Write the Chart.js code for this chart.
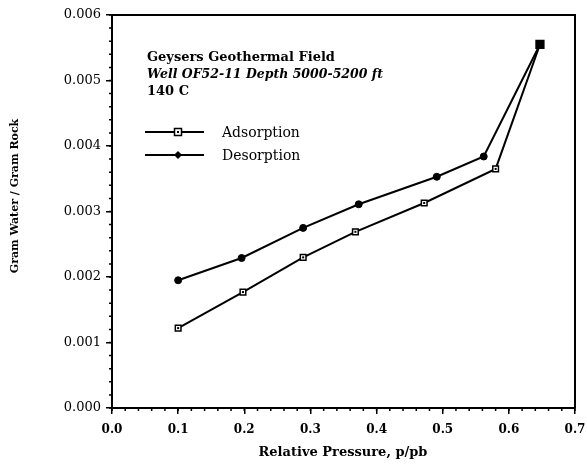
<!DOCTYPE html>
<html>
<head>
<meta charset="utf-8">
<script src="https://cdn.jsdelivr.net/npm/chart.js@4.4.1/dist/chart.umd.min.js"></script>
<style>
html,body{margin:0;padding:0;background:#fff;}
#wrap{width:587px;height:466px;position:relative;}
</style>
</head>
<body>
<div id="wrap"><canvas id="c" width="587" height="466"></canvas></div>
<script>
const adsorptionX = [0.100, 0.198, 0.289, 0.368, 0.472, 0.580, 0.647];
const adsorptionY = [0.00122, 0.00177, 0.00230, 0.00269, 0.00313, 0.00365, 0.00555];
const desorptionX = [0.100, 0.196, 0.289, 0.373, 0.491, 0.562, 0.647];
const desorptionY = [0.00195, 0.00229, 0.00275, 0.00311, 0.00353, 0.00384, 0.00555];
const xTicks = [0.0, 0.1, 0.2, 0.3, 0.4, 0.5, 0.6, 0.7];
const yTicks = [0.000, 0.001, 0.002, 0.003, 0.004, 0.005, 0.006];
const titleLines = ["Geysers Geothermal Field", "Well OF52-11 Depth 5000-5200 ft", "140 C"];
const seriesNames = ["Adsorption", "Desorption"];
const xTitle = "Relative Pressure, p/pb";
const yTitle = "Gram Water / Gram Rock";

const SERIF = '"DejaVu Serif", "Liberation Serif", serif';

function pts(xs, ys){ return xs.map((x,i)=>({x:x, y:ys[i]})); }

const nA = adsorptionX.length;
const nD = desorptionX.length;

const frameAndExtras = {
  id: 'frameAndExtras',
  afterDraw(chart){
    const ctx = chart.ctx;
    const a = chart.chartArea;
    const xs = chart.scales.x, ys = chart.scales.y;
    ctx.save();
    // top and right frame
    ctx.strokeStyle = '#000';
    ctx.lineWidth = 2;
    ctx.beginPath();
    ctx.moveTo(a.left, a.top); ctx.lineTo(a.right, a.top); ctx.lineTo(a.right, a.bottom);
    ctx.stroke();
    // minor ticks
    ctx.lineWidth = 1.5;
    ctx.beginPath();
    for (let v = 0; v <= 0.7001; v += 0.02) {
      const p = xs.getPixelForValue(v);
      ctx.moveTo(p, a.bottom); ctx.lineTo(p, a.bottom + 3);
    }
    for (let v = 0; v <= 0.00601; v += 0.0002) {
      const p = ys.getPixelForValue(v);
      ctx.moveTo(a.left, p); ctx.lineTo(a.left - 3, p);
    }
    ctx.stroke();
    // center dots of adsorption squares
    const metaA = chart.getDatasetMeta(0);
    ctx.fillStyle = '#000';
    metaA.data.forEach((el, i) => {
      if (i < nA - 1) ctx.fillRect(el.x - 1, el.y - 1, 2, 2);
    });
    // axis titles
    ctx.fillStyle = '#000';
    ctx.textAlign = 'center';
    ctx.textBaseline = 'middle';
    ctx.font = 'bold 13px ' + SERIF;
    ctx.fillText(xTitle, 343, 453);
    ctx.save();
    ctx.translate(15, 196);
    ctx.rotate(-Math.PI / 2);
    ctx.font = 'bold 11px ' + SERIF;
    ctx.fillText(yTitle, 0, 0);
    ctx.restore();
    // title text
    ctx.textBaseline = 'alphabetic';
    ctx.textAlign = 'left';
    ctx.font = 'bold 13px ' + SERIF;
    ctx.fillText(titleLines[0], 147, 61);
    ctx.font = 'italic bold 12.5px ' + SERIF;
    ctx.fillText(titleLines[1], 147, 78);
    ctx.font = 'bold 13px ' + SERIF;
    ctx.fillText(titleLines[2], 147, 95);
    // legend
    ctx.font = '14px ' + SERIF;
    ctx.lineWidth = 2;
    const ly = [132, 155];
    ly.forEach((y, k) => {
      ctx.strokeStyle = '#000';
      ctx.beginPath();
      ctx.moveTo(145, y); ctx.lineTo(204, y); ctx.stroke();
      if (k === 0) {
        ctx.fillStyle = '#fff';
        ctx.fillRect(174.5, y - 3.5, 7, 7);
        ctx.lineWidth = 1.5;
        ctx.strokeRect(174.5, y - 3.5, 7, 7);
        ctx.fillStyle = '#000';
        ctx.fillRect(177, y - 1, 2, 2);
        ctx.lineWidth = 2;
      } else {
        ctx.fillStyle = '#000';
        ctx.beginPath();
        ctx.moveTo(178, y - 4); ctx.lineTo(182, y); ctx.lineTo(178, y + 4); ctx.lineTo(174, y);
        ctx.closePath(); ctx.fill();
      }
      ctx.fillStyle = '#000';
      ctx.fillText(seriesNames[k], 222, y + 5);
    });
    ctx.restore();
  }
};

new Chart(document.getElementById('c'), {
  type: 'scatter',
  data: {
    datasets: [
      {
        label: seriesNames[0],
        data: pts(adsorptionX, adsorptionY),
        showLine: true,
        borderColor: '#000',
        borderWidth: 2,
        pointStyle: 'rect',
        pointRadius: adsorptionX.map((v,i)=> i === nA - 1 ? 5.5 : 4),
        pointBackgroundColor: adsorptionX.map((v,i)=> i === nA - 1 ? '#000' : '#fff'),
        pointBorderColor: '#000',
        pointBorderWidth: 1.5,
        order: 0
      },
      {
        label: seriesNames[1],
        data: pts(desorptionX, desorptionY),
        showLine: true,
        borderColor: '#000',
        borderWidth: 2,
        pointStyle: 'circle',
        pointRadius: desorptionX.map((v,i)=> i === nD - 1 ? 0 : 3.5),
        pointBackgroundColor: '#000',
        pointBorderColor: '#000',
        pointBorderWidth: 1,
        order: 1
      }
    ]
  },
  options: {
    responsive: false,
    animation: false,
    events: [],
    layout: { padding: { left: 4, top: 15, right: 0, bottom: 6 } },
    plugins: { legend: { display: false }, tooltip: { enabled: false } },
    scales: {
      x: {
        type: 'linear',
        min: 0, max: 0.7,
        afterBuildTicks(s){ s.ticks = xTicks.map(v => ({value: v})); },
        afterFit(s){ s.height = 52; s.paddingRight = 12; s.paddingLeft = 0; },
        grid: { display: true, drawOnChartArea: false, color: '#000', tickLength: 6, lineWidth: 1.5 },
        border: { display: true, color: '#000', width: 2 },
        ticks: {
          color: '#000', padding: 9,
          font: { family: SERIF, size: 12, weight: 'bold' },
          callback: v => v.toFixed(1),
          maxRotation: 0
        }
      },
      y: {
        type: 'linear',
        min: 0, max: 0.006,
        afterBuildTicks(s){ s.ticks = yTicks.map(v => ({value: v})); },
        afterFit(s){ s.width = 108; },
        grid: { display: true, drawOnChartArea: false, color: '#000', tickLength: 6, lineWidth: 1.5 },
        border: { display: true, color: '#000', width: 2 },
        ticks: {
          color: '#000', padding: 5,
          font: { family: SERIF, size: 13 },
          callback: v => v.toFixed(3)
        }
      }
    }
  },
  plugins: [frameAndExtras]
});
</script>
</body>
</html>
